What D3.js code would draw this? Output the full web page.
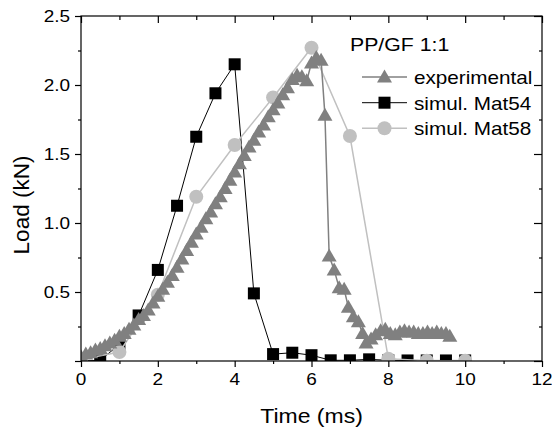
<!DOCTYPE html>
<html><head><meta charset="utf-8">
<script src="https://cdn.jsdelivr.net/npm/d3@7"></script>
<style>body{margin:0;background:#fff}</style>
</head><body>
<svg id="c" width="552" height="430"></svg>
<script>
// ---- data ----
const expTime = [0,0.125,0.25,0.375,0.5,0.625,0.75,0.875,1.0,1.125,1.25,1.375,1.5,1.625,1.75,1.875,2.0,2.125,2.25,2.375,2.5,2.625,2.75,2.875,3.0,3.125,3.25,3.375,3.5,3.625,3.75,3.875,4.0,4.125,4.25,4.375,4.5,4.625,4.75,4.875,5.0,5.125,5.25,5.375,5.5,5.625,5.75,5.875,6.0,6.125,6.25,6.35,6.46,6.59,6.72,6.85,6.96,7.09,7.22,7.33,7.42,7.55,7.67,7.8,7.92,8.05,8.18,8.3,8.42,8.54,8.66,8.78,8.9,9.02,9.14,9.26,9.38,9.5,9.6];
const expLoad = [0.03,0.05,0.06,0.08,0.09,0.11,0.13,0.15,0.18,0.2,0.23,0.26,0.3,0.33,0.37,0.42,0.47,0.52,0.57,0.62,0.68,0.74,0.8,0.86,0.92,0.97,1.03,1.08,1.14,1.19,1.25,1.31,1.37,1.43,1.49,1.55,1.6,1.66,1.71,1.77,1.82,1.87,1.93,1.98,2.04,2.07,2.06,2.03,2.16,2.2,2.18,1.78,0.76,0.66,0.53,0.52,0.39,0.32,0.285,0.2,0.13,0.16,0.19,0.22,0.23,0.2,0.19,0.21,0.22,0.21,0.21,0.2,0.2,0.21,0.2,0.21,0.2,0.2,0.18];
const mat54Time = [0,0.5,1,1.5,2,2.5,3,3.5,4,4.5,5,5.5,6,6.5,7,7.5,8,8.5,9,9.5,10];
const mat54Load = [0,0.005,0.12,0.33,0.66,1.125,1.625,1.94,2.15,0.49,0.05,0.06,0.042,0.005,0.005,0.012,0.005,0.004,0.004,0.004,0.004];
const mat58Time = [0,1,2,3,4,5,6,7,8,9,10];
const mat58Load = [0.01,0.065,0.48,1.19,1.565,1.91,2.27,1.63,0.017,0.002,0.002];
const xTickLabels = [0,2,4,6,8,10,12];
const yTickLabels = [0.5,1.0,1.5,2.0,2.5];
const seriesNames = ["experimental","simul. Mat54","simul. Mat58"];
const annotation = "PP/GF 1:1";
const xTitle = "Time (ms)";
const yTitle = "Load (kN)";

// ---- layout ----
const L = 81, R = 542, T = 16, B = 361;
const SX = 1.15; // horizontal text stretch
const FONT = "Arial, 'Liberation Sans', Helvetica, sans-serif";
const svg = d3.select("#c");
const x = d3.scaleLinear().domain([0, 12]).range([L, R]);
const y = d3.scaleLinear().domain([0, 2.5]).range([B, T]);

function txt(g, s, px, py, size, anchor, extra) {
  return g.append("text").text(s)
    .attr("transform", `translate(${px},${py})` + (extra || "") + ` scale(${SX},1)`)
    .attr("text-anchor", anchor).attr("font-family", FONT).attr("font-size", size).attr("fill", "#000");
}

// clip
svg.append("defs").append("clipPath").attr("id", "clip")
  .append("rect").attr("x", L).attr("y", T).attr("width", R - L).attr("height", B - T);

const plot = svg.append("g").attr("clip-path", "url(#clip)");
const line = d3.line().x(d => x(d[0])).y(d => y(d[1]));
const zip = (a, b) => a.map((v, i) => [v, b[i]]);

const d54 = zip(mat54Time, mat54Load);
const d58 = zip(mat58Time, mat58Load);
const dExp = zip(expTime, expLoad);

const triPath = "M0,-7.5L7.5,5.5L-7.5,5.5Z";

// Mat54
plot.append("path").attr("d", line(d54)).attr("fill", "none").attr("stroke", "#000").attr("stroke-width", 1);
plot.selectAll(".sq").data(d54).enter().append("rect")
  .attr("x", d => x(d[0]) - 6).attr("y", d => y(d[1]) - 6).attr("width", 12).attr("height", 12)
  .attr("fill", "#000");
// Mat58
plot.append("path").attr("d", line(d58)).attr("fill", "none").attr("stroke", "#c0c0c0").attr("stroke-width", 1.5);
plot.selectAll(".ci").data(d58).enter().append("circle")
  .attr("cx", d => x(d[0])).attr("cy", d => y(d[1])).attr("r", 7).attr("fill", "#c0c0c0");
// experimental
plot.append("path").attr("d", line(dExp)).attr("fill", "none").attr("stroke", "#808080").attr("stroke-width", 1.5);
plot.selectAll(".tr").data(dExp).enter().append("path")
  .attr("transform", d => `translate(${x(d[0])},${y(d[1])})`).attr("d", triPath).attr("fill", "#808080");

// axes
function styleAxis(g) {
  g.select(".domain").remove();
  g.selectAll("line").attr("stroke", "#000").attr("stroke-width", 1.2);
  g.selectAll("text").remove();
}
const majX = xTickLabels, minX = [1,3,5,7,9,11];
const majY = [0,0.5,1,1.5,2,2.5], minY = [0.25,0.75,1.25,1.75,2.25];
svg.append("g").attr("transform", `translate(0,${B})`).call(d3.axisBottom(x).tickValues(majX).tickSize(6)).call(styleAxis);
svg.append("g").attr("transform", `translate(0,${B})`).call(d3.axisBottom(x).tickValues(minX).tickSize(3)).call(styleAxis);
svg.append("g").attr("transform", `translate(0,${T})`).call(d3.axisTop(x).tickValues(majX).tickSize(-7)).call(styleAxis);
svg.append("g").attr("transform", `translate(0,${T})`).call(d3.axisTop(x).tickValues(minX).tickSize(-4)).call(styleAxis);
svg.append("g").attr("transform", `translate(${L},0)`).call(d3.axisLeft(y).tickValues(majY).tickSize(6)).call(styleAxis);
svg.append("g").attr("transform", `translate(${L},0)`).call(d3.axisLeft(y).tickValues(minY).tickSize(3)).call(styleAxis);
svg.append("g").attr("transform", `translate(${R},0)`).call(d3.axisRight(y).tickValues(majY).tickSize(-8)).call(styleAxis);
svg.append("g").attr("transform", `translate(${R},0)`).call(d3.axisRight(y).tickValues(minY).tickSize(-3)).call(styleAxis);
svg.append("rect").attr("x", L).attr("y", T).attr("width", R - L).attr("height", B - T)
  .attr("fill", "none").attr("stroke", "#000").attr("stroke-width", 1.2);

// tick labels
const lab = svg.append("g");
xTickLabels.forEach(v => txt(lab, String(v), x(v), B + 24, 16.5, "middle"));
yTickLabels.forEach(v => txt(lab, v.toFixed(1), L - 11, y(v) + 6, 16.5, "end"));

// titles
txt(svg, xTitle, (L + R) / 2, 423, 20, "middle");
svg.append("text").text(yTitle)
  .attr("transform", `translate(29,205) rotate(-90)`)
  .attr("text-anchor", "middle").attr("font-family", FONT).attr("font-size", 22.5);

// annotation + legend
txt(svg, annotation, 350, 51, 18.5, "start");
const lg = svg.append("g");
const legY = [77, 102.7, 128.3];
const legStyle = [
  {stroke: "#808080", w: 1.5, kind: "tri"},
  {stroke: "#000", w: 1, kind: "sq"},
  {stroke: "#c0c0c0", w: 1.5, kind: "ci"}
];
seriesNames.forEach((name, i) => {
  const yy = legY[i], st = legStyle[i];
  lg.append("line").attr("x1", 362).attr("x2", 407).attr("y1", yy).attr("y2", yy)
    .attr("stroke", st.stroke).attr("stroke-width", st.w);
  if (st.kind === "tri") lg.append("path").attr("d", triPath).attr("transform", `translate(384.5,${yy})`).attr("fill", "#808080");
  if (st.kind === "sq") lg.append("rect").attr("x", 378.5).attr("y", yy - 6).attr("width", 12).attr("height", 12).attr("fill", "#000");
  if (st.kind === "ci") lg.append("circle").attr("cx", 384.5).attr("cy", yy).attr("r", 7).attr("fill", "#c0c0c0");
  txt(lg, name, 414, yy + 7, 18, "start");
});
</script>
</body></html>
